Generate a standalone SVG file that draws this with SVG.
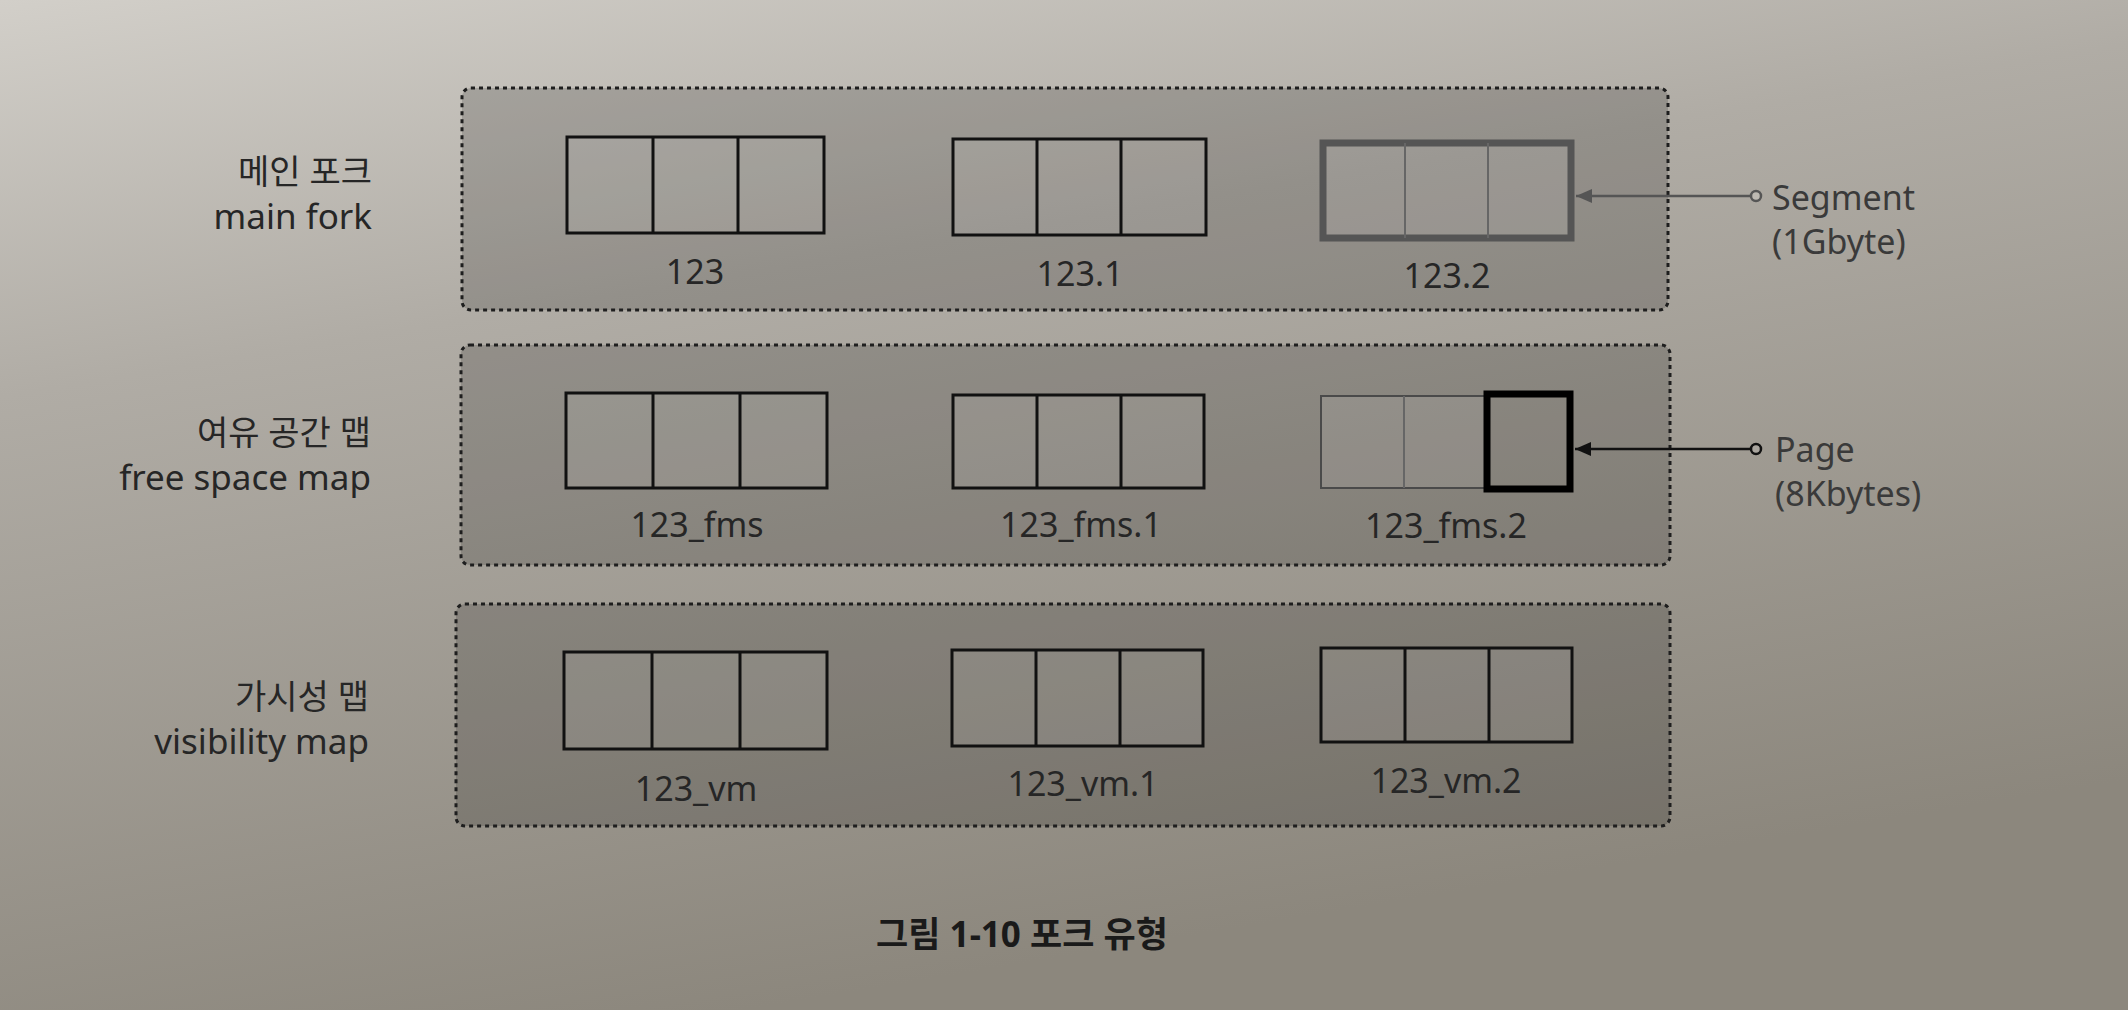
<svg xmlns="http://www.w3.org/2000/svg" width="2128" height="1010" viewBox="0 0 2128 1010">
<defs>
  <linearGradient id="bg" x1="0" y1="0" x2="0.35" y2="1">
    <stop offset="0" stop-color="#d2cfc9"/>
    <stop offset="0.35" stop-color="#b0aca5"/>
    <stop offset="1" stop-color="#8c877d"/>
  </linearGradient>
  <marker id="arrDark" viewBox="0 0 16 14" refX="16" refY="7" markerWidth="16" markerHeight="14" markerUnits="userSpaceOnUse" orient="auto">
    <path d="M0,0 L16,7 L0,14 z" fill="#111"/>
  </marker>
  <marker id="arrGrey" viewBox="0 0 16 14" refX="16" refY="7" markerWidth="16" markerHeight="14" markerUnits="userSpaceOnUse" orient="auto">
    <path d="M0,0 L16,7 L0,14 z" fill="#555"/>
  </marker>
</defs>
<style>
  text { font-family: "Noto Sans", "Noto Sans CJK KR", sans-serif; fill: #262626; }
  .lbl { font-size: 35px; text-anchor: end; }
  .lblk { font-size: 34px; text-anchor: end; }
  .num { font-size: 34px; text-anchor: middle; }
  .ann { font-size: 34px; fill: #3a3a3a; }
  .cap { font-size: 35px; font-weight: bold; text-anchor: middle; fill: #1a1a1a; }
  .fork { fill: #000; fill-opacity: 0.16; stroke: #1e1e1e; stroke-width: 3; stroke-dasharray: 4 4; }
  .blk { fill: #fff; fill-opacity: 0.08; stroke: #111; stroke-width: 3; }
  .div { stroke: #111; stroke-width: 3; }
  .gblk { fill: #fff; fill-opacity: 0.08; stroke: #555; stroke-width: 7; }
  .gdiv { stroke: #666; stroke-width: 2; }
  .tblk { fill: #fff; fill-opacity: 0.08; stroke: #4a4a4a; stroke-width: 2; }
  .pg { fill: none; stroke: #000; stroke-width: 7; }
</style>
<rect x="0" y="0" width="2128" height="1010" fill="url(#bg)"/>

<!-- Row 1: main fork -->
<g id="row-main">
  <rect class="fork" x="462" y="88" width="1206" height="222" rx="9"/>
  <text class="lblk" x="372" y="184">메인 포크</text>
  <text class="lbl" x="372" y="229">main fork</text>
</g>
<g id="seg-123">
  <rect class="blk" x="567" y="137" width="257" height="96"/>
  <line class="div" x1="653" y1="137" x2="653" y2="233"/>
  <line class="div" x1="738" y1="137" x2="738" y2="233"/>
  <text class="num" x="695" y="284">123</text>
</g>
<g id="seg-123-1">
  <rect class="blk" x="953" y="139" width="253" height="96"/>
  <line class="div" x1="1037" y1="139" x2="1037" y2="235"/>
  <line class="div" x1="1121" y1="139" x2="1121" y2="235"/>
  <text class="num" x="1080" y="286">123.1</text>
</g>
<g id="seg-123-2">
  <rect class="gblk" x="1323" y="143" width="248" height="95"/>
  <line class="gdiv" x1="1405" y1="143" x2="1405" y2="238"/>
  <line class="gdiv" x1="1488" y1="143" x2="1488" y2="238"/>
  <text class="num" x="1447" y="288">123.2</text>
</g>

<!-- Row 2: free space map -->
<g id="row-fsm">
  <rect class="fork" x="461" y="345" width="1209" height="220" rx="9"/>
  <text class="lblk" x="371" y="445">여유 공간 맵</text>
  <text class="lbl" x="371" y="490">free space map</text>
</g>
<g id="fsm-123">
  <rect class="blk" x="566" y="393" width="261" height="95"/>
  <line class="div" x1="653" y1="393" x2="653" y2="488"/>
  <line class="div" x1="740" y1="393" x2="740" y2="488"/>
  <text class="num" x="697" y="537">123_fms</text>
</g>
<g id="fsm-123-1">
  <rect class="blk" x="953" y="395" width="251" height="93"/>
  <line class="div" x1="1037" y1="395" x2="1037" y2="488"/>
  <line class="div" x1="1121" y1="395" x2="1121" y2="488"/>
  <text class="num" x="1081" y="537">123_fms.1</text>
</g>
<g id="fsm-123-2">
  <rect class="tblk" x="1321" y="396" width="167" height="92"/>
  <line class="gdiv" x1="1404" y1="396" x2="1404" y2="488"/>
  <rect class="pg" x="1487" y="394" width="83" height="95"/>
  <text class="num" x="1446" y="538">123_fms.2</text>
</g>

<!-- Row 3: visibility map -->
<g id="row-vm">
  <rect class="fork" x="456" y="604" width="1214" height="222" rx="9"/>
  <text class="lblk" x="369" y="709">가시성 맵</text>
  <text class="lbl" x="369" y="754">visibility map</text>
</g>
<g id="vm-123">
  <rect class="blk" x="564" y="652" width="263" height="97"/>
  <line class="div" x1="652" y1="652" x2="652" y2="749"/>
  <line class="div" x1="740" y1="652" x2="740" y2="749"/>
  <text class="num" x="696" y="801">123_vm</text>
</g>
<g id="vm-123-1">
  <rect class="blk" x="952" y="650" width="251" height="96"/>
  <line class="div" x1="1036" y1="650" x2="1036" y2="746"/>
  <line class="div" x1="1120" y1="650" x2="1120" y2="746"/>
  <text class="num" x="1083" y="796">123_vm.1</text>
</g>
<g id="vm-123-2">
  <rect class="blk" x="1321" y="648" width="251" height="94"/>
  <line class="div" x1="1405" y1="648" x2="1405" y2="742"/>
  <line class="div" x1="1489" y1="648" x2="1489" y2="742"/>
  <text class="num" x="1446" y="793">123_vm.2</text>
</g>

<!-- Annotations -->
<g id="ann-segment">
  <text class="ann" x="1772" y="210">Segment</text>
  <text class="ann" x="1772" y="254">(1Gbyte)</text>
</g>
<g id="ann-page">
  <text class="ann" x="1775" y="462">Page</text>
  <text class="ann" x="1775" y="506">(8Kbytes)</text>
</g>

<!-- Connectors -->
<g id="connectors">
  <line x1="1751" y1="196" x2="1576" y2="196" stroke="#555" stroke-width="2.5" marker-end="url(#arrGrey)"/>
  <circle cx="1756" cy="196" r="5" fill="#bdb9b2" stroke="#555" stroke-width="2.5"/>
  <line x1="1751" y1="449" x2="1575" y2="449" stroke="#111" stroke-width="2.5" marker-end="url(#arrDark)"/>
  <circle cx="1756" cy="449" r="5" fill="#a9a59e" stroke="#111" stroke-width="2.5"/>
</g>

<!-- Caption -->
<text class="cap" x="1022" y="947">그림 1-10 포크 유형</text>
</svg>
